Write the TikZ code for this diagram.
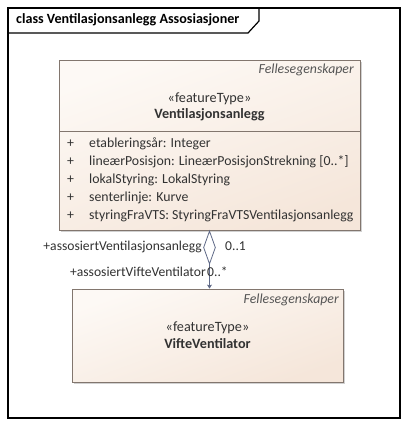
\documentclass[tikz,border=0pt]{standalone}
\usepackage{fontspec}
\setmainfont{Carlito}
\usetikzlibrary{shapes.geometric,shadows,arrows.meta}
\definecolor{frameline}{RGB}{0,0,0}
\definecolor{classline}{RGB}{130,118,110}
\definecolor{classtop}{RGB}{253,249,245}
\definecolor{classbot}{RGB}{245,230,218}
\definecolor{txt}{RGB}{50,50,50}
\definecolor{pkg}{RGB}{85,85,85}
\definecolor{conn}{RGB}{95,105,135}
\begin{document}
\begin{tikzpicture}[x=1pt,y=-1pt,
  classbox/.style={draw=classline, line width=0.8pt, rectangle, inner sep=0pt,
    top color=classtop, bottom color=classbot, shading angle=20,
    drop shadow={opacity=0.18, shadow xshift=2pt, shadow yshift=-2pt, fill=black}},
  pkgname/.style={font=\itshape\fontsize{13.8}{15}\selectfont, text=pkg, anchor=mid east, inner sep=0pt},
  stereo/.style={font=\fontsize{14.2}{16}\selectfont, text=txt, inner sep=0pt},
  cname/.style={font=\bfseries\fontsize{14.2}{16}\selectfont, text=txt, inner sep=0pt},
  attr/.style={font=\fontsize{13.8}{15}\selectfont, text=txt, anchor=mid west, inner sep=0pt},
  role/.style={font=\fontsize{13.6}{15}\selectfont, text=txt, inner sep=0pt},
  aggdiamond/.style={diamond, draw=conn, fill=white, line width=0.8pt, inner sep=0pt,
    minimum width=12pt, minimum height=33pt},
  connector/.style={draw=conn, line width=0.9pt}
]
\useasboundingbox (0,0) rectangle (408,426);
\fill[white] (0,0) rectangle (408,426);

% diagram frame with its name tab
\draw[frameline, line width=1.2pt] (8,8) rectangle (400,418);
\draw[frameline, line width=1.2pt] (8,33) -- (248,33) -- (259,21) -- (259,8);
\node[font=\bfseries\fontsize{14.1}{16}\selectfont, anchor=mid west, inner sep=0pt] (title) at (16,21) {class Ventilasjonsanlegg Assosiasjoner};

% class Ventilasjonsanlegg
\node[classbox, minimum width=301pt, minimum height=170pt] (va) at (209.5,145) {};
\draw[classline, line width=0.8pt] (59,131) -- (360,131);
\node[pkgname] (vapkg) at (354,71) {Fellesegenskaper};
\node[stereo] (vast) at (209.5,99) {«featureType»};
\node[cname] (vaname) at (209.5,115) {Ventilasjonsanlegg};
\foreach \y/\t [count=\i] in {145/{etableringsår: Integer},
                  163.5/{lineærPosisjon: LineærPosisjonStrekning [0..*]},
                  181.5/{lokalStyring: LokalStyring},
                  199.5/{senterlinje: Kurve},
                  217/{styringFraVTS: StyringFraVTSVentilasjonsanlegg}} {
  \node[attr] (vis\i) at (67,\y) {+};
  \node[attr] (att\i) at (89,\y) {\t};
}

% class VifteVentilator
\node[classbox, minimum width=271pt, minimum height=93pt] (vv) at (207.5,335.5) {};
\node[pkgname] (vvpkg) at (339,301) {Fellesegenskaper};
\node[stereo] (vvst) at (207.5,328) {«featureType»};
\node[cname] (vvname) at (207.5,344) {VifteVentilator};

% aggregation
\node[aggdiamond] (agg) at (209.5,247.5) {};
\draw[connector, -{Stealth[length=4pt, width=5pt, inset=1pt]}] (agg.south) -- (agg.south |- vv.north);

\node[role, anchor=mid east] (r1) at (202,248) {+assosiertVentilasjonsanlegg};
\node[role, anchor=mid west] (m1) at (225,248) {0..1};
\node[role, anchor=mid east] (r2) at (206,274) {+assosiertVifteVentilator};
\node[role, anchor=mid west] (m2) at (207,274) {0..*};
\end{tikzpicture}
\end{document}
